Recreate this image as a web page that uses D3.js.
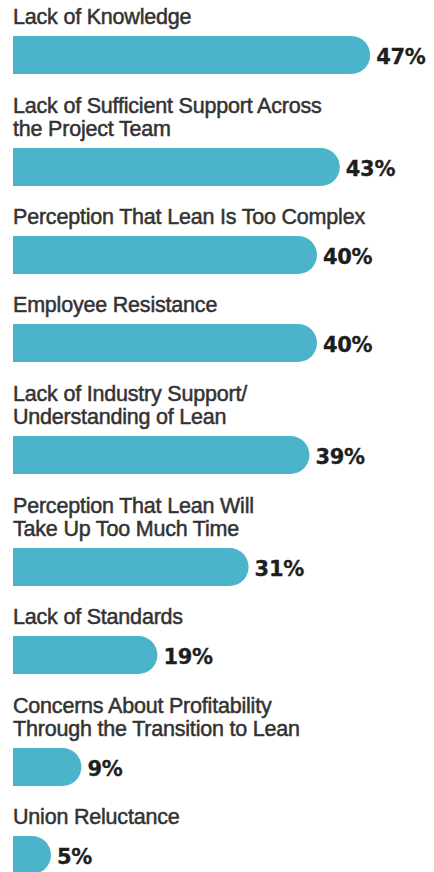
<!DOCTYPE html>
<html>
<head>
<meta charset="utf-8">
<script src="https://cdn.jsdelivr.net/npm/d3@7/dist/d3.min.js"></script>
<style>
  html, body { margin: 0; padding: 0; background: #ffffff; }
  svg { display: block; }
</style>
</head>
<body>
<div id="chart"></div>
<script>
// ---- data ----
const categories = [
  ["Lack of Knowledge"],
  ["Lack of Sufficient Support Across", "the Project Team"],
  ["Perception That Lean Is Too Complex"],
  ["Employee Resistance"],
  ["Lack of Industry Support/", "Understanding of Lean"],
  ["Perception That Lean Will", "Take Up Too Much Time"],
  ["Lack of Standards"],
  ["Concerns About Profitability", "Through the Transition to Lean"],
  ["Union Reluctance"]
];
const values = [47, 43, 40, 40, 39, 31, 19, 9, 5];
const valueLabels = ["47%", "43%", "40%", "40%", "39%", "31%", "19%", "9%", "5%"];

// ---- layout ----
const W = 434, H = 872;
const left = 13;
const barH = 38;
const firstTop = 36;
const stepOne = 88;
const lineH = 24;

const svg = d3.select("#chart").append("svg")
  .attr("width", W).attr("height", H);

const x = d3.scaleLinear().domain([0, 100]).range([0, 760]);

// compute bar tops from label line counts
const tops = [];
let t = firstTop;
categories.forEach((c, i) => {
  if (i > 0) t += stepOne + (c.length - 1) * lineH;
  tops.push(t);
});

const data = values.map((v, i) => ({ v, lines: categories[i], label: valueLabels[i], top: tops[i] }));

const g = svg.selectAll("g.item").data(data).enter().append("g").attr("class", "item");

// category labels
g.each(function(d) {
  const sel = d3.select(this);
  const n = d.lines.length;
  d.lines.forEach((ln, j) => {
    sel.append("text")
      .attr("x", left)
      .attr("y", d.top - 12 - (n - 1 - j) * 23)
      .attr("font-family", "'Liberation Sans', Arial, sans-serif")
      .attr("font-size", 21.5)
      .attr("letter-spacing", -0.2)
      .attr("fill", "#333333")
      .attr("stroke", "#333333")
      .attr("stroke-width", 0.5)
      .text(ln);
  });
});

// bars: square left end, rounded right end
g.append("path")
  .attr("fill", "#4bb4cb")
  .attr("d", d => {
    const w = x(d.v);
    const r = barH / 2;
    const x0 = left, y0 = d.top;
    const xe = x0 + w - r;
    return `M${x0},${y0} H${xe} A${r},${r} 0 0 1 ${xe},${y0 + barH} H${x0} Z`;
  });

// value labels
g.append("text")
  .attr("x", d => left + x(d.v) + 6)
  .attr("y", d => d.top + barH / 2 + 9)
  .attr("font-family", "'DejaVu Sans', sans-serif")
  .attr("font-weight", "bold")
  .attr("font-size", 21)
  .attr("letter-spacing", -0.3)
  .attr("fill", "#1e1e1e")
  .attr("stroke", "#1e1e1e")
  .attr("stroke-width", 0.3)
  .text(d => d.label);
</script>
</body>
</html>
